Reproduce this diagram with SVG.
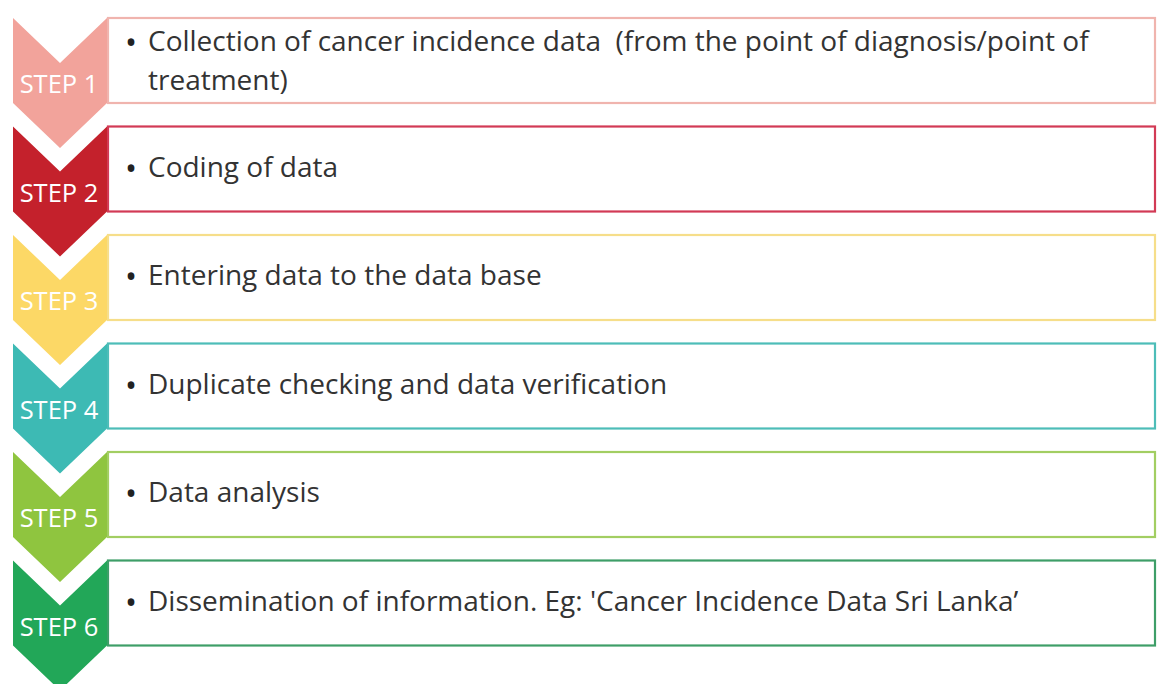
<svg xmlns="http://www.w3.org/2000/svg" width="1157" height="684" viewBox="0 0 1157 684">
<style>
.box{fill:#fff;stroke-width:2.2}
.lbl{font-family:"Open Sans",Lato,sans-serif;font-size:25.5px;fill:#fff;text-anchor:middle}
.txt{font-family:"Open Sans",Lato,sans-serif;font-size:28px;fill:#333;white-space:pre}
.bul{font-family:"Open Sans",Lato,sans-serif;font-size:32px;fill:#222}
</style>
<rect width="1157" height="684" fill="#fff"/>
<g id="step1">
<rect class="box" x="108" y="18" width="1047" height="85" stroke="#F0B4AE"/>
<polygon points="13,18 60,63 107,18 107,103 60,148 13,103" fill="#F2A39B"/>
<text class="lbl" x="59" y="93">STEP 1</text>
<text class="bul" x="125" y="53.5">•</text>
<text class="txt" xml:space="preserve"><tspan x="148" y="50.5">Collection of cancer incidence data  (from the point of diagnosis/point of</tspan><tspan x="148" y="89.5">treatment)</tspan></text>
</g>
<g id="step2">
<rect class="box" x="108" y="126.5" width="1047" height="85" stroke="#D23A55"/>
<polygon points="13,126.5 60,171.5 107,126.5 107,211.5 60,256.5 13,211.5" fill="#C4212C"/>
<text class="lbl" x="59" y="201.5">STEP 2</text>
<text class="bul" x="125" y="180">•</text>
<text class="txt" x="148" y="177">Coding of data</text>
</g>
<g id="step3">
<rect class="box" x="108" y="235" width="1047" height="85" stroke="#F6DE8A"/>
<polygon points="13,235 60,280 107,235 107,320 60,365 13,320" fill="#FCD866"/>
<text class="lbl" x="59" y="310">STEP 3</text>
<text class="bul" x="125" y="288">•</text>
<text class="txt" x="148" y="285">Entering data to the data base</text>
</g>
<g id="step4">
<rect class="box" x="108" y="343.5" width="1047" height="85" stroke="#4DBDB8"/>
<polygon points="13,343.5 60,388.5 107,343.5 107,428.5 60,473.5 13,428.5" fill="#3DBAB4"/>
<text class="lbl" x="59" y="418.5">STEP 4</text>
<text class="bul" x="125" y="396.5">•</text>
<text class="txt" x="148" y="393.5">Duplicate checking and data verification</text>
</g>
<g id="step5">
<rect class="box" x="108" y="452" width="1047" height="85" stroke="#A2CE62"/>
<polygon points="13,452 60,497 107,452 107,537 60,582 13,537" fill="#8FC53F"/>
<text class="lbl" x="59" y="527">STEP 5</text>
<text class="bul" x="125" y="505">•</text>
<text class="txt" x="148" y="502">Data analysis</text>
</g>
<g id="step6">
<rect class="box" x="108" y="560.5" width="1047" height="85" stroke="#3E9E68"/>
<polygon points="13,560.5 60,605.5 107,560.5 107,645.5 60,690.5 13,645.5" fill="#22A758"/>
<text class="lbl" x="59" y="635.5">STEP 6</text>
<text class="bul" x="125" y="613.5">•</text>
<text class="txt" x="148" y="610.5">Dissemination of information. Eg: 'Cancer Incidence Data Sri Lanka’</text>
</g>
<g id="connectors"></g>
</svg>
